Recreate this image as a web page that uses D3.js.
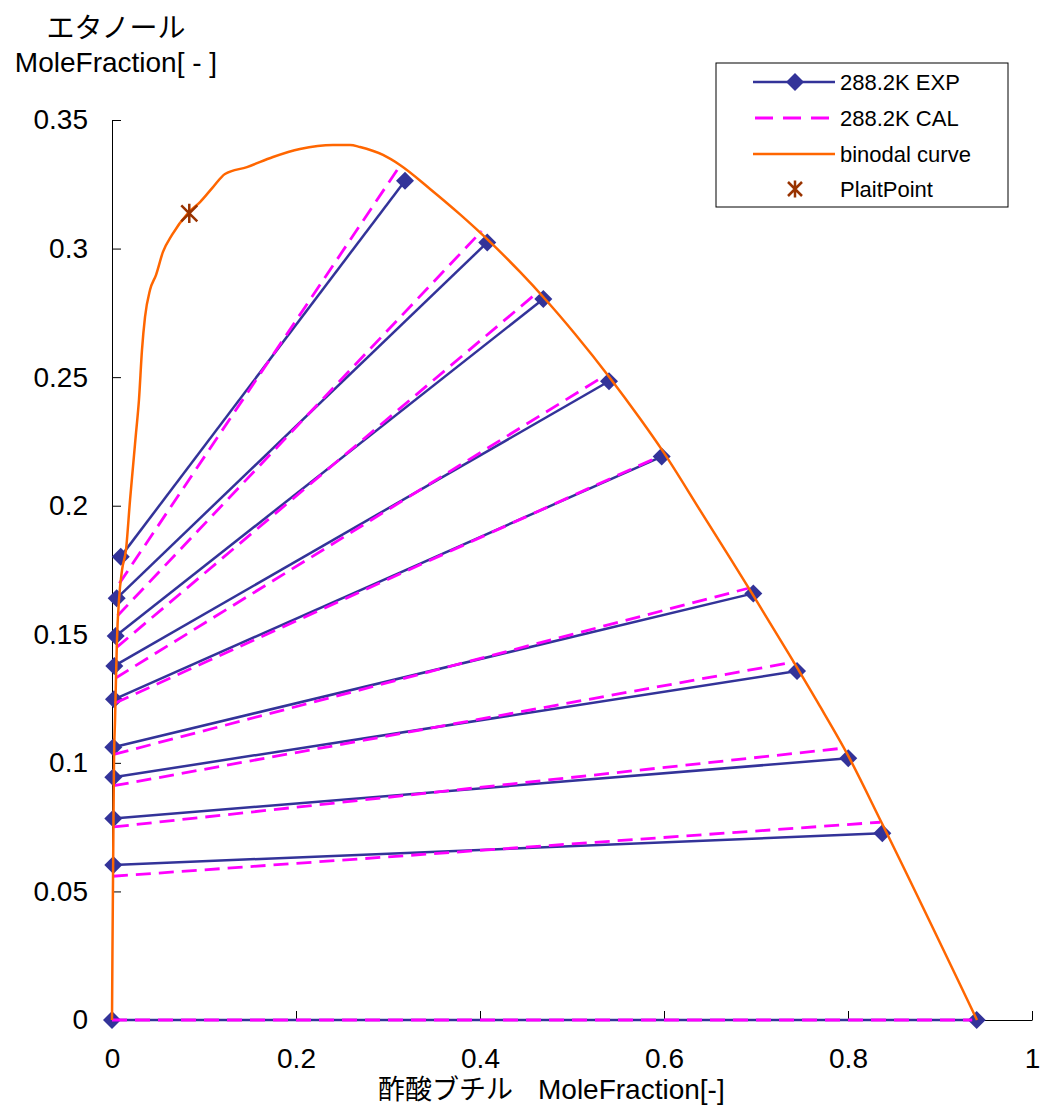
<!DOCTYPE html>
<html>
<head>
<meta charset="utf-8">
<script src="https://cdn.jsdelivr.net/npm/d3@7"></script>
<style>
  body { margin: 0; background: #fff; }
  text { font-family: "Liberation Sans", Arial, "Noto Sans CJK JP", sans-serif; }
</style>
</head>
<body>
<svg id="chart" width="1042" height="1110"></svg>
<script>
// tie lines, experiment (left end = ester-poor phase, right end = ester-rich phase)
var expLeft  = [[0.0095,0.1802],[0.0051,0.1640],[0.0040,0.1493],[0.0025,0.1377],[0.0022,0.1247],
                [0.0014,0.1061],[0.0014,0.0944],[0.0014,0.0784],[0.0014,0.0603],[0,0]];
var expRight = [[0.3185,0.3264],[0.4079,0.3024],[0.4688,0.2804],[0.5402,0.2484],[0.5975,0.2191],
                [0.6971,0.1659],[0.7446,0.1357],[0.8003,0.1018],[0.8373,0.0726],[0.9399,0]];

// tie lines, calculated
var calLeft  = [[0.008,0.1698],[0.006,0.1572],[0.005,0.1449],[0.004,0.1330],[0.003,0.1232],
                [0.002,0.1033],[0.002,0.0911],[0.002,0.0751],[0.001,0.0559],[0,0]];
var calRight = [[0.3123,0.3318],[0.4018,0.3068],[0.4630,0.2831],[0.5340,0.2502],[0.5920,0.2187],
                [0.6916,0.1679],[0.7410,0.1392],[0.7967,0.1058],[0.8348,0.0769],[0.935,0]];

// binodal curve
var binodalX = [0,0.0005,0.0011,0.0016,0.0022,0.0033,0.0043,0.0054,0.0076,0.0109,0.0152,0.0196,
                0.0228,0.0261,0.0293,0.0326,0.0359,0.0413,0.0478,0.0554,0.0652,0.0826,0.0957,0.1098,
                0.1228,0.1467,0.1750,0.2043,0.2402,0.2587,0.2696,0.2946,0.3130,0.3457,0.3783,0.4109,
                0.4435,0.4707,0.5033,0.5413,0.5739,0.5978,0.6391,0.6717,0.6967,0.7370,0.7674,0.8000,
                0.8370,0.9402];
var binodalY = [0,0.0272,0.0544,0.0778,0.1011,0.1167,0.1322,0.1478,0.1633,0.1750,0.1828,0.2022,
                0.2151,0.2283,0.2411,0.2606,0.2734,0.2839,0.2897,0.2987,0.3053,0.3138,0.3181,0.3239,
                0.3290,0.3317,0.3356,0.3387,0.3403,0.3403,0.3395,0.3364,0.3325,0.3232,0.3133,0.3026,
                0.2909,0.2804,0.2668,0.2497,0.2339,0.2217,0.1983,0.1797,0.1653,0.1416,0.1233,0.1029,
                0.0764,0];

var plaitPoint = [0.084, 0.3137];

var xTicks = [0, 0.2, 0.4, 0.6, 0.8, 1];
var xTickLabels = ["0", "0.2", "0.4", "0.6", "0.8", "1"];
var yTicks = [0, 0.05, 0.1, 0.15, 0.2, 0.25, 0.3, 0.35];
var yTickLabels = ["0", "0.05", "0.1", "0.15", "0.2", "0.25", "0.3", "0.35"];

var legendNames = ["288.2K EXP", "288.2K CAL", "binodal curve", "PlaitPoint"];

var navy = "#333399", magenta = "#ff00ff", orange = "#ff6600", brown = "#993300";

var svg = d3.select("#chart");
var x = d3.scaleLinear().domain([0, 1]).range([112, 1032]);
var y = d3.scaleLinear().domain([0, 0.35]).range([1020, 120]);

// axes
var xAxis = d3.axisBottom(x).tickValues(xTicks)
  .tickFormat(function(d, i) { return xTickLabels[i]; })
  .tickSizeInner(-9).tickSizeOuter(0).tickPadding(28);
var yAxis = d3.axisLeft(y).tickValues(yTicks)
  .tickFormat(function(d, i) { return yTickLabels[i]; })
  .tickSizeInner(-9).tickSizeOuter(0).tickPadding(24);

var gx = svg.append("g").attr("transform", "translate(0,1020)").call(xAxis);
var gy = svg.append("g").attr("transform", "translate(112,0)").call(yAxis);
[gx, gy].forEach(function(g) {
  g.selectAll("path, line").attr("stroke", "#000").attr("stroke-width", 1);
  g.selectAll("text").attr("font-size", 28).attr("fill", "#000")
    .attr("font-family", "'Liberation Sans', Arial, sans-serif");
});

// axis titles
svg.append("text").attr("x", 116).attr("y", 38).attr("text-anchor", "middle")
  .attr("font-size", 28).text("エタノール");
svg.append("text").attr("x", 116).attr("y", 72).attr("text-anchor", "middle")
  .attr("font-size", 28).text("MoleFraction[ - ]");
var xt = svg.append("text").attr("y", 1099).attr("font-size", 27);
xt.append("tspan").attr("x", 378).text("酢酸ブチル");
xt.append("tspan").attr("x", 538).attr("font-size", 28).text("MoleFraction[-]");

function diamond(r) {
  return "M0," + (-r) + "L" + r + ",0L0," + r + "L" + (-r) + ",0Z";
}

// experimental tie lines
var exp = svg.append("g");
exp.selectAll("line").data(expLeft).enter().append("line")
  .attr("x1", function(d) { return x(d[0]); })
  .attr("y1", function(d) { return y(d[1]); })
  .attr("x2", function(d, i) { return x(expRight[i][0]); })
  .attr("y2", function(d, i) { return y(expRight[i][1]); })
  .attr("stroke", navy).attr("stroke-width", 2.5);
exp.selectAll("path").data(expLeft.concat(expRight)).enter().append("path")
  .attr("d", diamond(9))
  .attr("transform", function(d) { return "translate(" + x(d[0]) + "," + y(d[1]) + ")"; })
  .attr("fill", navy);

// calculated tie lines
svg.append("g").selectAll("line").data(calLeft).enter().append("line")
  .attr("x1", function(d) { return x(d[0]); })
  .attr("y1", function(d) { return y(d[1]); })
  .attr("x2", function(d, i) { return x(calRight[i][0]); })
  .attr("y2", function(d, i) { return y(calRight[i][1]); })
  .attr("stroke", magenta).attr("stroke-width", 2.8)
  .attr("stroke-dasharray", "15,8");

// binodal curve
var line = d3.line()
  .x(function(d, i) { return x(binodalX[i]); })
  .y(function(d, i) { return y(binodalY[i]); })
  .curve(d3.curveMonotoneX);
svg.append("path").datum(binodalX).attr("d", line)
  .attr("fill", "none").attr("stroke", orange).attr("stroke-width", 2.5);

// plait point
function star(g, cx, cy, r) {
  g.append("path")
    .attr("d", "M" + (cx - r) + "," + (cy - r) + "L" + (cx + r) + "," + (cy + r) +
               "M" + (cx - r) + "," + (cy + r) + "L" + (cx + r) + "," + (cy - r) +
               "M" + cx + "," + (cy - r * 1.2) + "L" + cx + "," + (cy + r * 1.2))
    .attr("stroke", brown).attr("stroke-width", 2.5).attr("fill", "none");
}
star(svg, x(plaitPoint[0]), y(plaitPoint[1]), 8);

// legend
var lg = svg.append("g");
lg.append("rect").attr("x", 716).attr("y", 63).attr("width", 292).attr("height", 144)
  .attr("fill", "#fff").attr("stroke", "#000").attr("stroke-width", 1);
var rows = [82, 118, 154, 189];
lg.append("line").attr("x1", 753).attr("x2", 835).attr("y1", rows[0]).attr("y2", rows[0])
  .attr("stroke", navy).attr("stroke-width", 2.5);
lg.append("path").attr("d", diamond(9)).attr("fill", navy)
  .attr("transform", "translate(795," + rows[0] + ")");
lg.append("line").attr("x1", 755).attr("x2", 830).attr("y1", rows[1]).attr("y2", rows[1])
  .attr("stroke", magenta).attr("stroke-width", 3).attr("stroke-dasharray", "18,10");
lg.append("line").attr("x1", 753).attr("x2", 835).attr("y1", rows[2]).attr("y2", rows[2])
  .attr("stroke", orange).attr("stroke-width", 2.5);
star(lg, 795, rows[3], 7);
lg.selectAll("text.lab").data(legendNames).enter().append("text")
  .attr("class", "lab")
  .attr("x", 840).attr("y", function(d, i) { return rows[i] + 8; })
  .attr("font-size", 22).text(function(d) { return d; });
</script>
</body>
</html>
